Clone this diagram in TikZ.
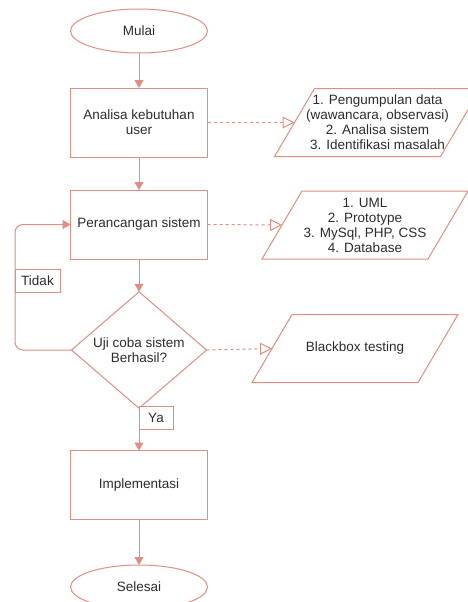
\documentclass[tikz,border=0pt]{standalone}
\usepackage{fontspec}
\setmainfont{Liberation Sans}
\usetikzlibrary{shapes.geometric,arrows.meta,calc}
\definecolor{ln}{RGB}{224,142,132}
\definecolor{tx}{RGB}{45,45,45}
\tikzset{
  base/.style={draw=ln, line width=1pt, text=tx, font=\fontsize{13.5}{15}\selectfont, align=center, inner sep=2pt, outer sep=0pt},
  term/.style={base, ellipse, minimum width=137pt, minimum height=44pt},
  proc/.style={base, rectangle, minimum width=137pt, minimum height=69pt},
  dec/.style={base, diamond, minimum width=135pt, minimum height=90pt, inner sep=0pt},
  io/.style={base, draw=none, rectangle, minimum width=166pt, minimum height=68pt},
  para/.style={draw=ln, line width=1pt, line join=miter},
  lab/.style={draw=ln, line width=0.8pt, fill=white, text=tx, font=\fontsize{13.5}{15}\selectfont, inner sep=0pt, minimum height=23pt, outer sep=0pt},
  flow/.style={draw=ln, line width=1pt, -{Triangle[length=8pt,width=9pt]}},
  note/.style={draw=ln, line width=1pt, dash pattern=on 3pt off 3pt, -{Triangle[open,length=12pt,width=12pt,line width=1pt]}},
}
\newcommand{\drawpara}[1]{%
  \draw[para] ($(#1.south west)+(-20,0)$) -- ($(#1.north west)+(20,0)$) -- ($(#1.north east)+(20,0)$) -- ($(#1.south east)+(-20,0)$) -- cycle;}
\begin{document}
\begin{tikzpicture}[x=1pt,y=-1pt]
\clip (0,0) rectangle (468,602);
\fill[white] (0,0) rectangle (468,602);
\node[term] (start) at (139,31) {Mulai};
\node[proc] (a) at (139,122.5) {Analisa kebutuhan\\user};
\node[proc] (b) at (139,224.5) {Perancangan sistem};
\node[dec] (d) at (139,350) {Uji coba sistem\\Berhasil?};
\node[proc] (e) at (139,485) {Implementasi};
\node[term] (f) at (139,587) {Selesai};
\node[io] (p1) at (377.5,122.5) {1. Pengumpulan data\\(wawancara, observasi)\\2. Analisa sistem\\3. Identifikasi masalah};
\node[io] (p2) at (365,225) {1. UML\\2. Prototype\\3. MySql, PHP, CSS\\4. Database};
\node[io] (p3) at (355,348.5) {Blackbox testing};
\drawpara{p1}
\drawpara{p2}
\drawpara{p3}
\draw[flow] (start) -- (a);
\draw[flow] (a) -- (b);
\draw[flow] (b) -- (d);
\draw[flow] (d) -- (e);
\draw[flow] (e) -- (f);
\draw[note] (a.east) -- (p1.west);
\draw[note] (b.east) -- (p2.west);
\draw[note] (d.east) -- (p3.west);
\coordinate (lx) at (15,281);
\draw[flow, rounded corners=8pt] (d.west) -| (lx) |- (b.west);
\node[lab, anchor=west, minimum width=45pt] (no) at (lx) {Tidak};
\node[lab, anchor=west, minimum width=34pt] (yes) at (139,417.5) {Ya};
\end{tikzpicture}
\end{document}
